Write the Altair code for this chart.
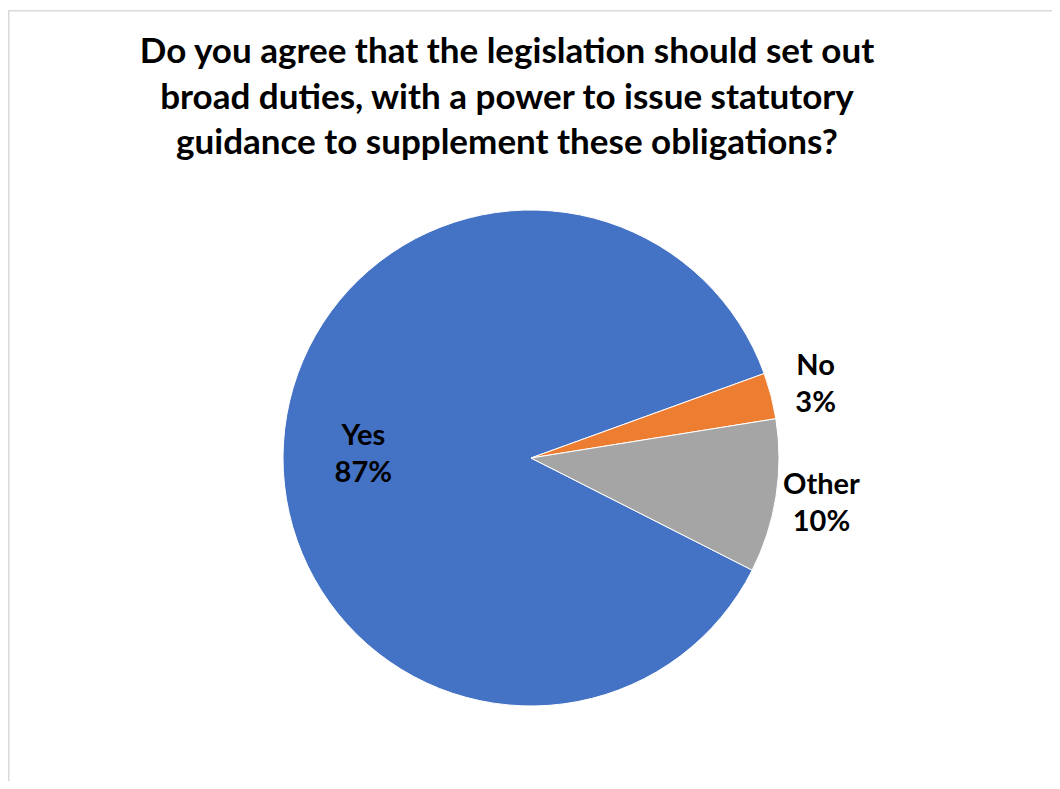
import altair as alt
import pandas as pd

categories = ["Yes", "No", "Other"]
values = [87, 3, 10]
labels = ["Yes\n87%", "No\n3%", "Other\n10%"]
colors = ["#4472C4", "#ED7D31", "#A5A5A5"]
title_text = "Do you agree that the legislation should set out\nbroad duties, with a power to issue statutory\nguidance to supplement these obligations?"

df = pd.DataFrame({"category": categories, "value": values, "label": labels,
                   "idx": list(range(len(categories)))})

START = 2.04
TAU = 6.283185307
CX, CY, R = 523, 448, 248
FONT = "Lato"
W, H = 1044, 771

pie = alt.Chart(df).mark_arc(radius=R, stroke="white", strokeWidth=1).encode(
    theta=alt.Theta("value:Q", stack=True, scale=alt.Scale(range=[START, START + TAU])),
    order=alt.Order("idx:Q", sort="ascending"),
    x=alt.value(CX), y=alt.value(CY),
    color=alt.Color("category:N", scale=alt.Scale(domain=categories, range=colors), legend=None),
)

lab_base = alt.Chart(df).transform_joinaggregate(
    total="sum(value)"
).transform_window(
    cum="sum(value)", sort=[alt.SortField("idx", order="ascending")]
).transform_calculate(
    frac="(datum.cum - datum.value / 2) / datum.total"
)

def label_layer(filt, rad, dy):
    return lab_base.transform_filter(filt).mark_text(
        radius=rad, font=FONT, fontWeight="bold", fontSize=29,
        lineBreak="\n", lineHeight=37, dy=dy, align="center", baseline="middle",
        color="black"
    ).encode(
        theta=alt.Theta("frac:Q", scale=alt.Scale(domain=[0, 1], range=[START, START + TAU])),
        x=alt.value(CX), y=alt.value(CY), text="label:N",
    )

lab_in = label_layer(alt.datum.category == "Yes", 168, -12)
lab_out = label_layer(alt.datum.category != "Yes", 294, -18)
labels_layer = alt.layer(lab_in, lab_out)

title = alt.Chart(pd.DataFrame({"t": [title_text]})).mark_text(
    font=FONT, fontWeight="bold", fontSize=35, lineBreak="\n", lineHeight=45.5,
    align="center", baseline="middle", color="black"
).encode(x=alt.value(499), y=alt.value(42), text="t:N")

frame_src = alt.Chart(pd.DataFrame({"k": [0]}))
left_edge = frame_src.mark_rule(color="#D9D9D9", strokeWidth=1.5).encode(
    x=alt.value(0.75), y=alt.value(0), y2=alt.value(H))
top_edge = frame_src.mark_rule(color="#D9D9D9", strokeWidth=1.5).encode(
    x=alt.value(0), x2=alt.value(W), y=alt.value(0.75))

chart = alt.layer(left_edge, top_edge, pie, labels_layer, title).resolve_scale(
    theta="independent"
).properties(
    width=W, height=H,
    autosize=alt.AutoSizeParams(type="none"),
    padding={"left": 0, "top": 2, "right": 0, "bottom": 0},
).configure_view(stroke=None).configure(background="white")

chart.save("out.html", embed_options={"renderer": "svg", "actions": False})
